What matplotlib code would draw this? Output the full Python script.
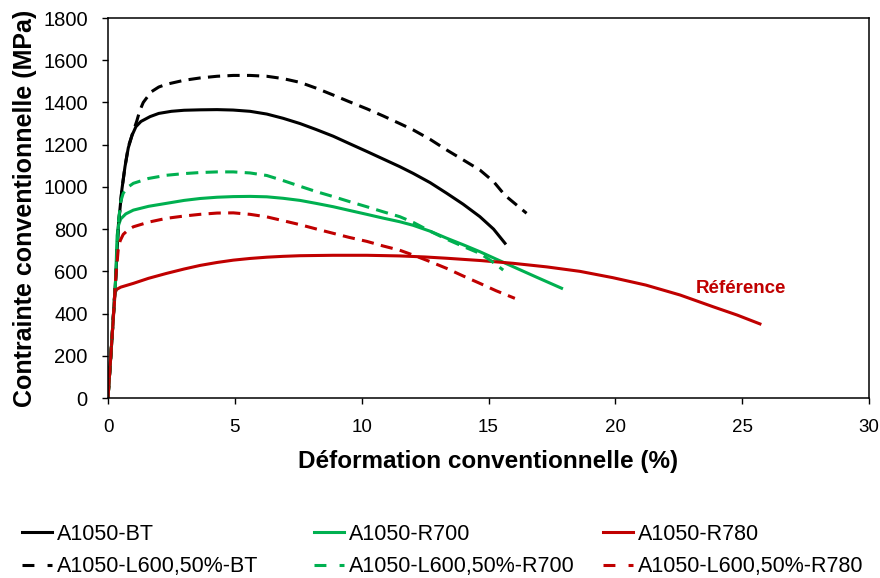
import matplotlib
matplotlib.use('Agg')
import matplotlib.pyplot as plt

plt.rcParams['font.family'] = ['Liberation Sans', 'DejaVu Sans']

# Stress-strain curves
bt_x = [0, 0.15, 0.3, 0.41, 0.55, 0.67, 0.8, 0.95, 1.1, 1.3, 1.66, 2.0, 2.5, 3.0,
        3.63, 4.3, 4.93, 5.6, 6.26, 6.9, 7.57, 8.2, 8.88, 9.5, 10.2, 10.85, 11.5,
        12.03, 12.7, 13.35, 14.0, 14.66, 15.2, 15.65]
bt_y = [0, 270, 560, 820, 990, 1096, 1185, 1245, 1285, 1310, 1333, 1348, 1358,
        1363, 1365, 1366, 1364, 1358, 1345, 1325, 1300, 1272, 1240, 1206, 1168,
        1132, 1096, 1064, 1020, 970, 918, 859, 800, 733]

r700_x = [0, 0.15, 0.3, 0.36, 0.42, 0.5, 0.7, 1.0, 1.6, 2.3, 3.0, 3.63, 4.3, 4.94,
          5.6, 6.26, 6.9, 7.57, 8.2, 8.88, 9.5, 10.2, 10.85, 11.5, 12.03, 12.7,
          13.35, 14.0, 14.66, 15.3, 15.97, 16.9, 17.88]
r700_y = [0, 270, 560, 770, 820, 848, 872, 890, 908, 922, 936, 945, 951, 954,
          955, 953, 946, 936, 922, 906, 889, 870, 852, 835, 818, 790,
          757, 726, 693, 658, 622, 572, 520]

r780_x = [0, 0.15, 0.28, 0.35, 0.5, 1.0, 1.6, 2.3, 3.0, 3.63, 4.3, 4.94, 5.6, 6.26,
          6.9, 7.57, 8.2, 8.88, 10.2, 11.5, 12.5, 13.35, 14.7, 15.97, 17.3, 18.6,
          19.9, 21.2, 22.55, 23.86, 24.8, 25.7]
r780_y = [0, 270, 500, 515, 525, 543, 567, 590, 611, 628, 642, 653, 661, 667,
          671, 674, 675, 676, 676, 673, 668, 662, 651, 638, 621, 600,
          570, 535, 488, 432, 393, 351]

l600_bt_x = [0, 0.15, 0.3, 0.41, 0.55, 0.67, 0.8, 1.0, 1.13, 1.25, 1.39, 1.7, 2.0,
             2.3, 3.0, 3.63, 4.3, 4.94, 5.6, 6.26, 6.9, 7.57, 8.2, 8.88, 9.5, 10.2,
             10.85, 11.5, 12.03, 12.7, 13.35, 14.0, 14.66, 15.2, 15.65, 16.1, 16.5]
l600_bt_y = [0, 270, 560, 820, 990, 1096, 1190, 1265, 1310, 1360, 1400, 1450, 1473,
             1486, 1505, 1516, 1524, 1528, 1528, 1524, 1513, 1495, 1468, 1435, 1404,
             1370, 1336, 1300, 1270, 1225, 1175, 1128, 1080, 1025, 960, 915, 875]

l600_r700_x = [0, 0.15, 0.3, 0.4, 0.5, 0.6, 0.8, 1.0, 1.6, 2.3, 3.0, 3.63, 4.3,
               4.94, 5.6, 6.26, 6.9, 7.57, 8.2, 8.88, 9.5, 10.2, 10.85, 11.5,
               12.03, 12.7, 13.35, 14.0, 14.66, 15.1, 15.58]
l600_r700_y = [0, 270, 560, 820, 930, 970, 1000, 1017, 1040, 1055, 1063, 1068, 1071,
               1071, 1066, 1054, 1030, 1003, 978, 954, 931, 906, 882, 859,
               832, 790, 752, 718, 685, 650, 606]

l600_r780_x = [0, 0.15, 0.3, 0.4, 0.48, 0.6, 0.8, 1.0, 1.6, 2.3, 3.0, 3.63, 4.3,
               4.94, 5.6, 6.26, 6.9, 7.57, 8.2, 8.88, 9.5, 10.2, 10.85, 11.5,
               12.03, 12.7, 13.35, 14.0, 14.66, 15.3, 16.04]
l600_r780_y = [0, 270, 560, 700, 745, 775, 797, 811, 833, 851, 862, 870, 876,
               877, 870, 858, 840, 821, 801, 780, 761, 742, 720, 700,
               677, 646, 614, 578, 543, 508, 472]

x_ticks = [0, 5, 10, 15, 20, 25, 30]
y_ticks = [0, 200, 400, 600, 800, 1000, 1200, 1400, 1600, 1800]

black = '#000000'
green = '#00B050'
red = '#C00000'
dash = (4, 2.4)

fig = plt.figure(figsize=(8.8, 5.78), dpi=100)
ax = fig.add_axes([108 / 880, 1 - 398 / 578, 761 / 880, 380 / 578])

lw = 2.2
h_bt, = ax.plot(bt_x, bt_y, color=black, lw=lw, label='A1050-BT')
h_r700, = ax.plot(r700_x, r700_y, color=green, lw=lw, label='A1050-R700')
h_r780, = ax.plot(r780_x, r780_y, color=red, lw=lw, label='A1050-R780')
h_lbt, = ax.plot(l600_bt_x, l600_bt_y, color=black, lw=lw, dashes=dash,
                 label='A1050-L600,50%-BT')
h_l700, = ax.plot(l600_r700_x, l600_r700_y, color=green, lw=lw, dashes=dash,
                  label='A1050-L600,50%-R700')
h_l780, = ax.plot(l600_r780_x, l600_r780_y, color=red, lw=lw, dashes=dash,
                  label='A1050-L600,50%-R780')

ax.text(24.95, 521, 'Référence', color=red, fontsize=13.5, fontweight='bold',
        ha='center', va='center')

ax.set_xlim(0, 30)
ax.set_ylim(0, 1800)
ax.set_xticks(x_ticks)
ax.set_yticks(y_ticks)
ax.tick_params(axis='x', labelsize=13.5, length=4, width=1, pad=11)
ax.tick_params(axis='y', labelsize=14.5, length=4.5, width=1, pad=10)
ax.tick_params(top=False, right=False)
for s in ax.spines.values():
    s.set_linewidth(1.1)

ax.set_xlabel('Déformation conventionnelle (%)', fontsize=17.5, fontweight='bold')
ax.set_ylabel('Contrainte conventionnelle (MPa)', fontsize=18, fontweight='bold')
ax.xaxis.set_label_coords(0.5, -0.137)
ax.yaxis.set_label_coords(-0.093, 0.5)

# three one-column legends, placed like the Excel legend
cols = [([h_bt, h_lbt], 22), ([h_r700, h_l700], 314), ([h_r780, h_l780], 603)]
for handles, px in cols:
    leg = fig.legend(handles=handles, loc='upper left',
                     bbox_to_anchor=(px / 880, 1 - 524 / 578), frameon=False,
                     fontsize=15.5, handlelength=1.4, handletextpad=0.23,
                     borderpad=0, borderaxespad=0, labelspacing=0.52)
    # Excel draws the dashed legend key as "- -"
    leg.get_lines()[1].set_dashes((3.9, 4.3))

fig.savefig('out.png', dpi=100)
